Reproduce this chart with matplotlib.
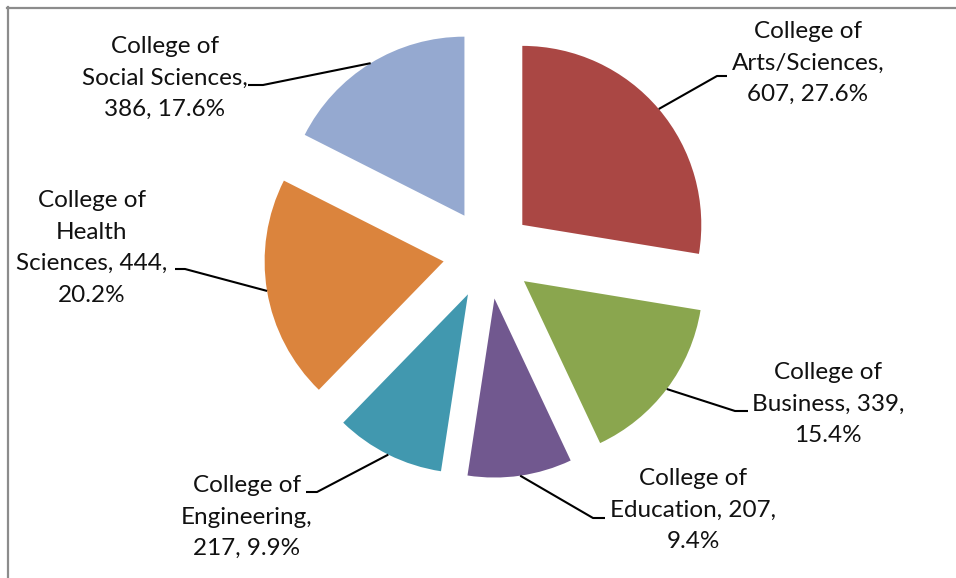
import math
import matplotlib.pyplot as plt
from matplotlib.lines import Line2D

colleges = ['College of\nArts/Sciences', 'College of\nBusiness', 'College of\nEducation',
            'College of\nEngineering', 'College of\nHealth\nSciences', 'College of\nSocial Sciences']
students = [607, 339, 207, 217, 444, 386]
percents = ['27.6%', '15.4%', '9.4%', '9.9%', '20.2%', '17.6%']
colors = ['#AA4744', '#8AA64E', '#71588F', '#4198AF', '#DB843D', '#95A9D0']

# layout, in pixels of the 956x578 picture (y down)
W, H = 956, 578
cx, cy, R = 488, 254, 179
gap = 45
# where each label breaks: after the name, after the count
seps = [(',\n', ', '), (', ', ',\n'), (', ', ',\n'), (',\n', ', '), (', ', ',\n'), (',\n', ', ')]
text_xy = [(808, 63), (828, 404), (693, 510), (247, 517), (92, 248), (165, 78)]
elbow_xy = [(717, 76), (735, 411), (593, 518), (317, 492), (185, 269), (263, 85)]
tail = [10, 13, 12, -11, -10, -15]


def px(x, y):
    return (x - cx) / R, (cy - y) / R


fig = plt.figure(figsize=(W / 100, H / 100), dpi=100)
ax = fig.add_axes([0, 0, 1, 1])

wedges, _ = ax.pie(students, colors=colors, startangle=90, counterclock=False,
                   explode=[gap / R] * len(students), radius=1,
                   wedgeprops=dict(linewidth=0))

for i, w in enumerate(wedges):
    mid = math.radians((w.theta1 + w.theta2) / 2)
    x0 = w.center[0] + w.r * math.cos(mid)
    y0 = w.center[1] + w.r * math.sin(mid)
    ex, ey = px(*elbow_xy[i])
    tx, ty = px(elbow_xy[i][0] + tail[i], elbow_xy[i][1])
    ax.plot([x0, ex, tx], [y0, ey, ty], color='black', lw=1.5, solid_capstyle='butt')
    label = colleges[i] + seps[i][0] + str(students[i]) + seps[i][1] + percents[i]
    lx, ly = px(*text_xy[i])
    ax.text(lx, ly, label, ha='center', va='center', multialignment='center',
            fontsize=17.5, family='Lato', color='#111111', linespacing=1.62)

ax.set_xlim(-cx / R, (W - cx) / R)
ax.set_ylim((cy - H) / R, cy / R)
ax.set_aspect('equal')
ax.axis('off')

# chart frame (only top and left edges show)
fig.add_artist(Line2D([7.5 / W, 7.5 / W], [0, 1 - 7 / H], color='#8c8c8c', lw=1.6,
                      transform=fig.transFigure))
fig.add_artist(Line2D([7 / W, 1], [1 - 8 / H, 1 - 8 / H], color='#8c8c8c', lw=1.6,
                      transform=fig.transFigure))

fig.savefig('out.png', dpi=100)
